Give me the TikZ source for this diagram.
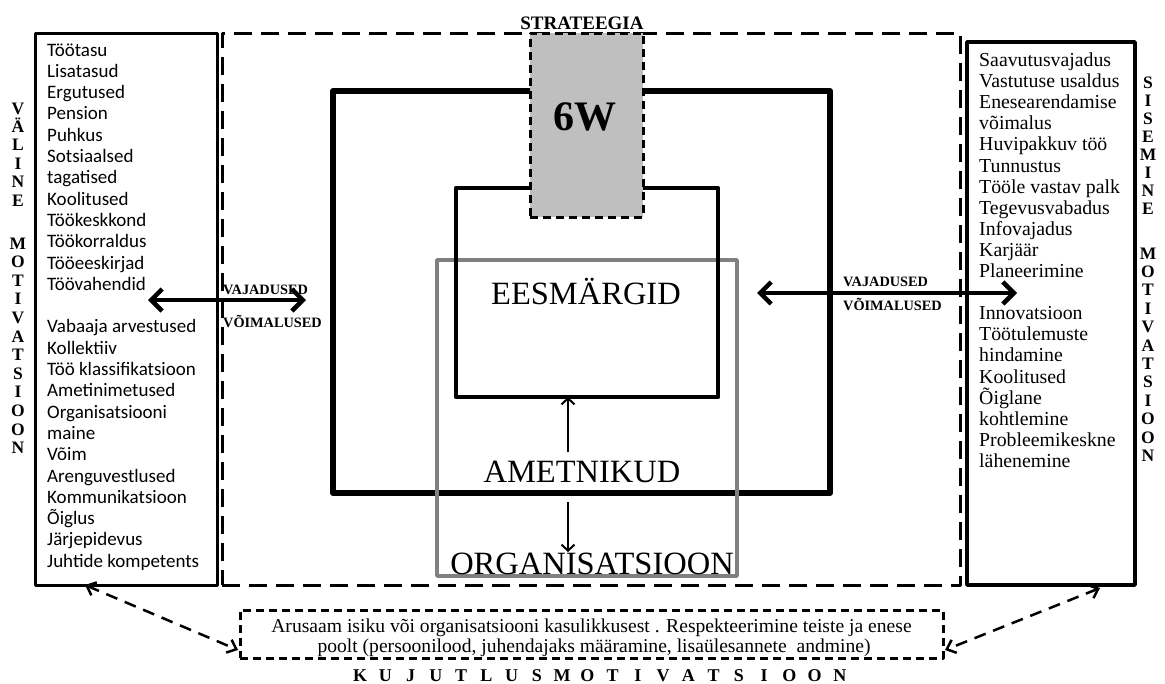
\documentclass[tikz,border=0pt]{standalone}
\usepackage{fontspec}
\setmainfont{Liberation Serif}
\newfontfamily\calibfont{Carlito}
\usetikzlibrary{arrows.meta}

\begin{document}
\begin{tikzpicture}[x=1pt,y=-1pt,line join=round,
  rbox/.style={draw,inner sep=0pt,outer sep=0pt,anchor=north west},
  bigdash/.style={rbox,line width=3pt,dash pattern=on 18pt off 9pt},
  smalldash/.style={rbox,line width=3pt,dash pattern=on 8pt off 5pt},
  vlet/.style={inner sep=0pt,anchor=base,font=\fontsize{17.5}{18}\bfseries\selectfont},
  ltext/.style={inner sep=0pt,anchor=base west,font=\calibfont\fontsize{19}{20}\selectfont},
  rtext/.style={inner sep=0pt,anchor=base west,font=\fontsize{19.8}{21}\selectfont},
  bigword/.style={inner sep=0pt,anchor=base,font=\fontsize{32.5}{33}\selectfont},
  flowlabel/.style={inner sep=0pt,anchor=base west,font=\fontsize{14.3}{15}\bfseries\selectfont},
  imgtext/.style={inner sep=0pt,anchor=base,font=\fontsize{19.6}{20}\selectfont},
  dblarrow/.style={line width=4.5pt,{Straight Barb[length=11pt,width=22pt]}-{Straight Barb[length=11pt,width=22pt]}},
  thinarrow/.style={line width=2pt,-{Straight Barb[length=6pt,width=13pt]}},
  dasharrow/.style={line width=2.5pt,dash pattern=on 12pt off 8pt,{Straight Barb[length=8pt,width=14pt]}-{Straight Barb[length=8pt,width=14pt]}}]
\useasboundingbox (0,0) rectangle (1165,683);

% frames
\node[bigdash,minimum width=738pt,minimum height=552pt] (strat) at (222,33) {};
\node[rbox,line width=6pt,minimum width=497pt,minimum height=402pt] (outer) at (333,91) {};
\node[rbox,draw=black!50,line width=3.5pt,minimum width=300pt,minimum height=316pt] (org) at (437,260) {};
\node[rbox,line width=4.5pt,minimum width=262pt,minimum height=209pt] (goal) at (456,188) {};
\node[rbox,line width=3pt,minimum width=182pt,minimum height=552pt] (ext) at (35,33) {};
\node[rbox,line width=3.5pt,minimum width=168pt,minimum height=543pt] (int) at (967,42) {};
\node[smalldash,fill=black!25,minimum width=113pt,minimum height=184pt] (six) at (530,33) {};
\node[smalldash,minimum width=703pt,minimum height=48pt] (img) at (240,610) {};

% centre labels
\node[inner sep=0pt,anchor=base,font=\fontsize{19}{20}\bfseries\selectfont] (strattxt) at (582,29) {STRATEEGIA};
\node[inner sep=0pt,anchor=base,font=\fontsize{42}{43}\bfseries\selectfont] (sixtxt) at (585,130) {6W};
\node[bigword] (eesm) at (586,304) {EESMÄRGID};
\node[bigword] (amet) at (582,482) {AMETNIKUD};
\node[bigword] (orgtxt) at (592,574) {ORGANISATSIOON};

% arrows inside the strategy frame
\coordinate (upA) at (568,452);
\coordinate (dnA) at (568,502);
\coordinate (dnB) at (568,552);
\draw[thinarrow] (upA) -- (upA |- goal.south);
\draw[thinarrow] (dnA) -- (dnB);

% needs / possibilities arrows
\coordinate (la1) at (148,300);
\coordinate (la2) at (306,300);
\draw[dblarrow] (la1) -- (la2);
\coordinate (ra1) at (757,293);
\coordinate (ra2) at (1017,293);
\draw[dblarrow] (ra1) -- (ra2);
\node[flowlabel] (lneed) at (223,294) {VAJADUSED};
\node[flowlabel] (lposs) at (223,327) {VÕIMALUSED};
\node[flowlabel] (rneed) at (843,286) {VAJADUSED};
\node[flowlabel] (rposs) at (843,310) {VÕIMALUSED};

% external factors
\foreach \t [count=\i from 0] in {Töötasu,Lisatasud,Ergutused,Pension,Puhkus,Sotsiaalsed,tagatised,Koolitused,Töökeskkond,Töökorraldus,Tööeeskirjad,Töövahendid,{},Vabaaja arvestused,Kollektiiv,Töö klassifikatsioon,Ametinimetused,Organisatsiooni,maine,Võim,Arenguvestlused,Kommunikatsioon,Õiglus,Järjepidevus,Juhtide kompetents}
  \node[ltext] (lt\i) at (47,56+21.3*\i) {\t};

% internal factors
\foreach \t [count=\i from 0] in {Saavutusvajadus,Vastutuse usaldus,Enesearendamise,võimalus,Huvipakkuv töö,Tunnustus,Tööle vastav palk,Tegevusvabadus,Infovajadus,Karjäär,Planeerimine,{},Innovatsioon,Töötulemuste,hindamine,Koolitused,Õiglane,kohtlemine,Probleemikeskne,lähenemine}
  \node[rtext] (rt\i) at (979,66.5+21.1*\i) {\t};

% vertical titles
\foreach \c [count=\i from 0] in {V,Ä,L,I,N,E}
  \node[vlet] (va\i) at (18,114+18.4*\i) {\c};
\foreach \c [count=\i from 0] in {M,O,T,I,V,A,T,S,I,O,O,N}
  \node[vlet] (vb\i) at (18,249+18.6*\i) {\c};
\foreach \c [count=\i from 0] in {S,I,S,E,M,I,N,E}
  \node[vlet] (sa\i) at (1148,88+18.1*\i) {\c};
\foreach \c [count=\i from 0] in {M,O,T,I,V,A,T,S,I,O,O,N}
  \node[vlet] (sb\i) at (1148,259+18.4*\i) {\c};

% image motivation
\node[imgtext] (imgl1) at (591.5,632) {Arusaam isiku või organisatsiooni kasulikkusest . Respekteerimine teiste ja enese};
\node[imgtext] (imgl2) at (594,652) {poolt (persoonilood, juhendajaks määramine, lisaülesannete\ \ andmine)};
\foreach \c [count=\i from 0] in {K,U,J,U,T,L,U,S,M,O,T,I,V,A,T,S,I,O,O,N}
  \node[vlet,font=\fontsize{18}{18}\bfseries\selectfont] (ku\i) at (360+25.26*\i,681) {\c};

\coordinate (ba1) at (85,585);
\coordinate (ba2) at (238,650);
\draw[dasharrow] (ba1) -- (ba2);
\coordinate (bb1) at (1100,588);
\coordinate (bb2) at (945,650);
\draw[dasharrow] (bb1) -- (bb2);
\end{tikzpicture}
\end{document}
